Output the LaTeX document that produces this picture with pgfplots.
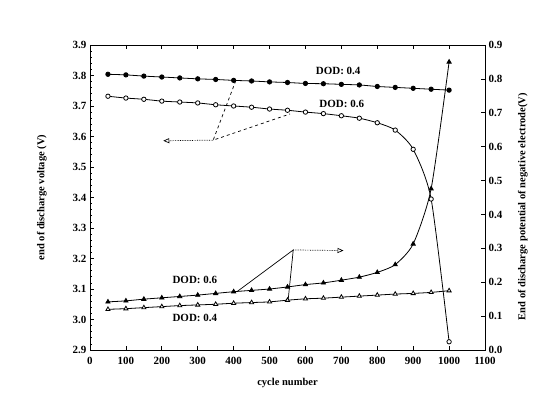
\documentclass[border=0pt]{standalone}
\usepackage{fontspec}
\setmainfont{Liberation Serif}
\usepackage{pgfplots}
\pgfplotsset{compat=1.18}
\usetikzlibrary{arrows.meta}

\pgfplotstableread{
x y
50 3.804
100 3.802
150 3.798
200 3.795
250 3.792
300 3.789
350 3.787
400 3.784
450 3.782
500 3.779
550 3.777
600 3.774
650 3.773
700 3.771
750 3.769
800 3.764
850 3.761
900 3.758
950 3.755
1000 3.752
}\dodfourV

\pgfplotstableread{
x y
50 3.732
100 3.726
150 3.722
200 3.716
250 3.713
300 3.710
350 3.704
400 3.700
450 3.696
500 3.690
550 3.686
600 3.680
650 3.675
700 3.668
750 3.660
800 3.645
850 3.621
900 3.558
950 3.395
1000 2.927
}\dodsixV

\pgfplotstableread{
x y
50 0.142
100 0.145
150 0.150
200 0.154
250 0.158
300 0.162
350 0.167
400 0.172
450 0.176
500 0.180
550 0.186
600 0.193
650 0.198
700 0.206
750 0.215
800 0.229
850 0.252
900 0.313
950 0.476
1000 0.850
}\dodsixN

\pgfplotstableread{
x y
50 0.120
100 0.122
150 0.125
200 0.128
250 0.131
300 0.133
350 0.135
400 0.138
450 0.140
500 0.142
550 0.147
600 0.151
650 0.153
700 0.156
750 0.159
800 0.162
850 0.165
900 0.167
950 0.170
1000 0.175
}\dodfourN

\pgfplotsset{
  every axis/.append style={
    scale only axis, width=395pt, height=305pt,
    xmin=0, xmax=1100,
    tick align=inside,
    major tick length=4pt, minor tick length=2pt,
    tick label style={font=\bfseries\fontsize{11}{13}\selectfont},
    label style={font=\bfseries\fontsize{10.5}{12}\selectfont},
    line width=0.8pt,
    every tick/.style={black, line width=0.7pt},
  },
}

\begin{document}
\begin{tikzpicture}[x=1pt,y=1pt]
\useasboundingbox (0,0) rectangle (538,395);
\begin{axis}[
  at={(90pt,45pt)}, anchor=south west,
  ymin=2.9, ymax=3.9,
  xtick distance=100, ytick distance=0.1,
  minor y tick num=4,
  xtick pos=both, ytick pos=left,
  xticklabel style={yshift=-3pt, /pgf/number format/.cd, 1000 sep={}, assume math mode=true},
  yticklabel style={/pgf/number format/.cd, fixed, fixed zerofill, precision=1, assume math mode=true},
  xlabel={cycle number},
  xlabel style={at={(axis description cs:0.5,-0.108)}, anchor=center},
  ylabel={end of discharge voltage (V)},
  ylabel style={at={(axis description cs:-0.122,0.5)}, anchor=center},
  clip=false,
]
\addplot[black, line width=0.8pt, smooth, tension=0.4, mark=*, mark size=2.2pt, mark options={solid, fill=black}] table {\dodfourV};
\addplot[black, line width=0.8pt, smooth, tension=0.4, mark=*, mark size=2.2pt, mark options={solid, fill=white}] table {\dodsixV};

\draw[black, line width=0.7pt, densely dotted, -{Triangle[open, length=6pt, width=5pt]}] (axis cs:343,3.588) -- (axis cs:204,3.586);
\draw[black, line width=0.7pt, dashed] (axis cs:406,3.783) -- (axis cs:343,3.588) -- (axis cs:557,3.674);
\draw[black, line width=0.7pt, densely dotted, -{Triangle[open, length=6pt, width=5pt]}] (axis cs:566,3.228) -- (axis cs:706,3.226);
\draw[black, line width=0.7pt] (axis cs:409,3.091) -- (axis cs:566,3.228) -- (axis cs:552,3.066);

\node[font=\bfseries\fontsize{11}{13}\selectfont] at (axis cs:691,3.816) {DOD: 0.4};
\node[font=\bfseries\fontsize{11}{13}\selectfont] at (axis cs:701,3.707) {DOD: 0.6};
\node[font=\bfseries\fontsize{11}{13}\selectfont] at (axis cs:292,3.130) {DOD: 0.6};
\node[font=\bfseries\fontsize{11}{13}\selectfont] at (axis cs:292,3.004) {DOD: 0.4};
\end{axis}

\begin{axis}[
  at={(90pt,45pt)}, anchor=south west,
  ymin=0, ymax=0.9,
  hide x axis,
  axis y line*=right,
  ytick distance=0.1,
  yticklabel style={/pgf/number format/.cd, fixed, fixed zerofill, precision=1, assume math mode=true},
  ylabel={End of discharge potential of negative electrode(V)},
  ylabel style={at={(axis description cs:1.096,0.47)}, anchor=center, rotate=0},
  clip=false,
]
\addplot[black, line width=0.8pt, smooth, tension=0.4, mark=triangle*, mark size=2.4pt, mark options={solid, fill=black}] table {\dodsixN};
\addplot[black, line width=0.8pt, smooth, tension=0.4, mark=triangle*, mark size=2.4pt, mark options={solid, fill=white}] table {\dodfourN};
\end{axis}
\end{tikzpicture}
\end{document}
